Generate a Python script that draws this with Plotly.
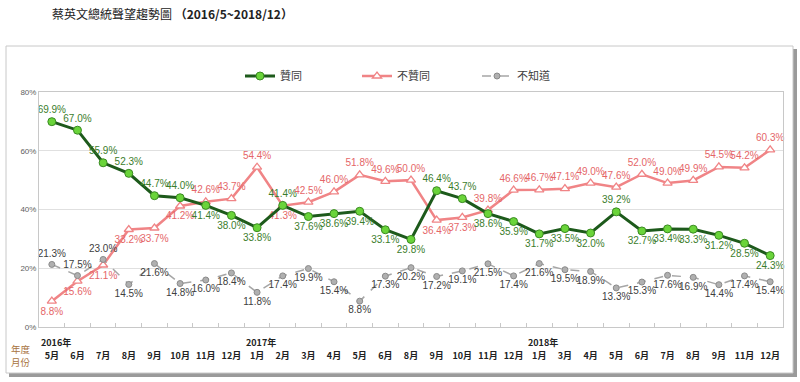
import plotly.graph_objects as go

# ---------------- data ----------------
month_labels = ["5月", "6月", "7月", "8月", "9月", "10月", "11月", "12月",
                "1月", "2月", "3月", "4月", "5月", "6月", "8月", "9月", "10月", "11月", "12月",
                "1月", "3月", "4月", "5月", "6月", "7月", "8月", "9月", "11月", "12月"]
year_labels = ["2016年", "2017年", "2018年"]
year_start_index = [0, 8, 19]
y_tick_values = [0, 20, 40, 60, 80]
y_tick_labels = ["0%", "20%", "40%", "60%", "80%"]

approve = [69.9, 67.0, 55.9, 52.3, 44.7, 44.0, 41.4, 38.0,
           33.8, 41.4, 37.6, 38.6, 39.4, 33.1, 29.8, 46.4, 43.7, 38.6, 35.9,
           31.7, 33.5, 32.0, 39.2, 32.7, 33.4, 33.3, 31.2, 28.5, 24.3]
disapprove = [8.8, 15.6, 21.1, 33.2, 33.7, 41.2, 42.6, 43.7,
              54.4, 41.3, 42.5, 46.0, 51.8, 49.6, 50.0, 36.4, 37.3, 39.8, 46.6,
              46.7, 47.1, 49.0, 47.6, 52.0, 49.0, 49.9, 54.5, 54.2, 60.3]
unknown = [21.3, 17.5, 23.0, 14.5, 21.6, 14.8, 16.0, 18.4,
           11.8, 17.4, 19.9, 15.4, 8.8, 17.3, 20.2, 17.2, 19.1, 21.5, 17.4,
           21.6, 19.5, 18.9, 13.3, 15.3, 17.6, 16.9, 14.4, 17.4, 15.4]
series_names = ["贊同", "不贊同", "不知道"]
title_text = "蔡英文總統聲望趨勢圖 <b>（2016/5~2018/12）</b>"

# ---------------- label placement (style) ----------------
T, B = "top center", "bottom center"
approve_pos = [T, T, T, T, T, T, B, B,
               B, T, B, B, B, B, B, T, T, B, B,
               B, B, B, T, B, B, B, B, B, B]
disapprove_pos = [B, B, B, B, B, B, T, T,
                  T, B, T, T, T, T, T, B, B, T, T,
                  T, T, T, T, T, T, T, T, T, T]
unknown_pos = [T, T, T, B, B, B, B, B,
               B, B, B, B, B, B, B, B, B, B, B,
               B, B, B, B, B, B, B, B, B, B]

x_idx = list(range(len(month_labels)))
LABEL_FONT = "Liberation Sans"

GREEN_LINE = "#1d5a1b"
GREEN_FILL = "#6ad43a"
GREEN_TEXT = "#3b7d2c"
PINK = "#f08486"
PINK_TEXT = "#e56668"
GRAY = "#a6a6a6"
GRAY_TEXT = "#404040"

fig = go.Figure()

fig.add_trace(go.Scatter(
    x=x_idx, y=disapprove, name=series_names[1], mode="lines+markers+text",
    line=dict(color=PINK, width=2.5),
    marker=dict(symbol="triangle-up", size=8, color="white", line=dict(color=PINK, width=1.3)),
    text=[f"{v:.1f}%" for v in disapprove], textposition=disapprove_pos,
    textfont=dict(family=LABEL_FONT, size=10, color=PINK_TEXT),
    legend="legend2", cliponaxis=False))

fig.add_trace(go.Scatter(
    x=x_idx, y=unknown, name=series_names[2], mode="lines+markers+text",
    line=dict(color=GRAY, width=1.5, dash="dash"),
    marker=dict(symbol="circle", size=6, color="#b0b0b0", line=dict(color="#8a8a8a", width=1)),
    text=[f"{v:.1f}%" for v in unknown], textposition=unknown_pos,
    textfont=dict(family=LABEL_FONT, size=10, color=GRAY_TEXT),
    legend="legend3", cliponaxis=False))

fig.add_trace(go.Scatter(
    x=x_idx, y=approve, name=series_names[0], mode="lines+markers+text",
    line=dict(color=GREEN_LINE, width=3),
    marker=dict(symbol="circle", size=8, color=GREEN_FILL, line=dict(color="#3a8a22", width=1)),
    text=[f"{v:.1f}%" for v in approve], textposition=approve_pos,
    textfont=dict(family=LABEL_FONT, size=10, color=GREEN_TEXT),
    legend="legend", cliponaxis=False))

L, R, TOP, BOT = 39, 17, 92, 55
W, H = 800, 382
PW, PH = W - L - R, H - TOP - BOT


def px_x(p):
    return (p - L) / PW


def px_y(p):
    return (H - BOT - p) / PH


shapes = [
    # shadow
    dict(type="rect", xref="paper", yref="paper", layer="below",
         x0=px_x(9), x1=px_x(797), y0=px_y(377), y1=px_y(49),
         fillcolor="#9a9a9a", line=dict(width=0)),
    # frame
    dict(type="rect", xref="paper", yref="paper", layer="below",
         x0=px_x(6), x1=px_x(793), y0=px_y(373), y1=px_y(46),
         fillcolor="white", line=dict(color="#c8c8c8", width=1)),
]

annotations = [
    dict(text=title_text, xref="paper", yref="paper", x=px_x(50), y=px_y(14),
         xanchor="left", yanchor="middle", showarrow=False,
         font=dict(family="Noto Sans CJK TC", size=12, color="#222222")),
    dict(text="年度", xref="paper", yref="paper", x=px_x(21), y=px_y(349),
         xanchor="center", yanchor="middle", showarrow=False,
         font=dict(family="Noto Sans CJK TC", size=9.5, color="#a8733e")),
    dict(text="月份", xref="paper", yref="paper", x=px_x(21), y=px_y(362),
         xanchor="center", yanchor="middle", showarrow=False,
         font=dict(family="Noto Sans CJK TC", size=9.5, color="#a8733e")),
]
for lab, idx in zip(year_labels, year_start_index):
    annotations.append(dict(text=f"<b>{lab}</b>", xref="x", yref="paper", x=idx - 0.5, y=px_y(342),
                            xanchor="left", yanchor="middle", showarrow=False,
                            font=dict(family="Noto Sans CJK TC", size=9, color="#222222")))

legend_common = dict(orientation="h", yref="paper", xref="paper", yanchor="middle", xanchor="left",
                     bgcolor="rgba(0,0,0,0)", borderwidth=0,
                     font=dict(family="Noto Sans CJK TC", size=11, color="#404040"))

fig.update_layout(
    width=W, height=H,
    margin=dict(l=L, r=R, t=TOP, b=BOT, autoexpand=False),
    paper_bgcolor="white", plot_bgcolor="rgba(0,0,0,0)",
    showlegend=True, hovermode=False,
    legend=dict(**legend_common, x=px_x(240), y=px_y(76)),
    legend2=dict(**legend_common, x=px_x(357), y=px_y(76)),
    legend3=dict(**legend_common, x=px_x(477), y=px_y(76)),
    xaxis=dict(range=[-0.5, len(month_labels) - 0.5], tickmode="array", tickvals=x_idx,
               ticktext=month_labels, ticks="", showgrid=False, zeroline=False,
               showline=True, linecolor="#c8c8c8", mirror=True,
               tickfont=dict(family="Noto Sans CJK TC", size=9, color="#222222", weight="bold"),
               ticklabelstandoff=20, automargin=False,
               minor=dict(tickmode="array", tickvals=[i + 0.5 for i in x_idx[:-1]],
                          ticks="inside", ticklen=4, tickcolor="#c8c8c8", showgrid=False)),
    yaxis=dict(range=[0, 80], tickmode="array", tickvals=y_tick_values, ticktext=y_tick_labels,
               showgrid=True, gridcolor="#e0e0e0", zeroline=False, automargin=False,
               showline=True, linecolor="#c8c8c8", mirror=True, ticks="",
               tickfont=dict(family="Liberation Sans", size=8, color="#606060")),
    shapes=shapes, annotations=annotations,
)

fig.write_html("out.html", config={"displayModeBar": False},
               post_script="document.body.style.margin='0';document.body.style.overflow='hidden';")
